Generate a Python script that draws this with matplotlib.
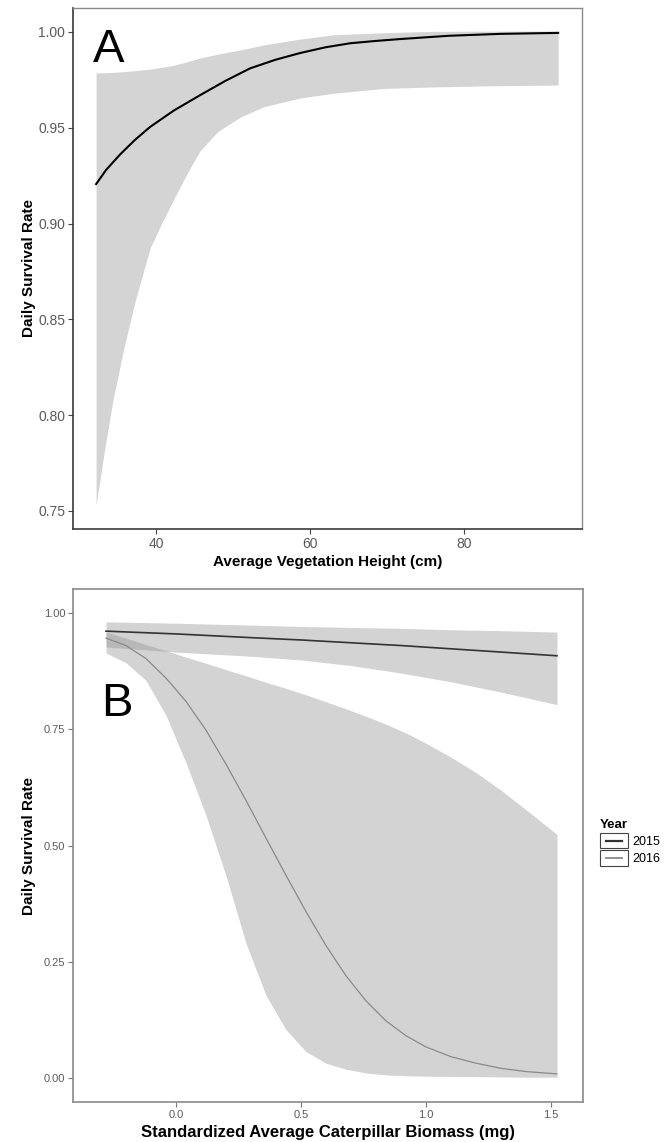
import matplotlib
matplotlib.use("Agg")
import matplotlib.pyplot as plt
from matplotlib.lines import Line2D
from matplotlib.patches import Rectangle
from matplotlib.legend_handler import HandlerBase

plt.rcParams['font.family'] = ['Liberation Sans', 'DejaVu Sans']

# ── Panel A : daily survival vs vegetation height ───────────────────────────
veg_line_x = [32.2, 33.5, 35.3, 37.2, 39.2, 42.3, 45.7, 49.0, 52.2, 55.5, 58.7,
              62.0, 65.2, 68.5, 71.7, 78.0, 84.7, 92.2]
veg_line_y = [0.9206, 0.928, 0.936, 0.9435, 0.9504, 0.959, 0.967, 0.9745, 0.981,
              0.9855, 0.989, 0.992, 0.9941, 0.9953, 0.9963, 0.998, 0.999, 0.9995]

veg_band_x = [32.2, 33.3, 34.4, 35.8, 37.3, 39.2, 40.7, 42.2, 44.0, 45.7, 48.0,
              50.9, 54.0, 58.7, 63.0, 69.5, 76.0, 82.1, 92.2]
veg_band_lo = [0.753, 0.782, 0.808, 0.835, 0.860, 0.887, 0.900, 0.912, 0.926, 0.938,
               0.948, 0.9555, 0.961, 0.9655, 0.968, 0.9705, 0.9713, 0.9718, 0.9723]
veg_band_hi = [0.9786, 0.9787, 0.9789, 0.9793, 0.9798, 0.9806, 0.9815, 0.9825, 0.9844,
               0.9864, 0.9884, 0.9906, 0.9932, 0.9963, 0.9985, 0.9996, 1.0003, 1.0004,
               1.0005]

# ── Panel B : daily survival vs caterpillar biomass, by year ────────────────
years = ['2015', '2016']

bio_2015_x = [-0.28, 0.0, 0.3, 0.5, 0.7, 0.9, 1.1, 1.3, 1.524]
dsr_2015 = [0.961, 0.955, 0.947, 0.942, 0.936, 0.930, 0.923, 0.916, 0.908]
dsr_2015_hi = [0.981, 0.978, 0.974, 0.971, 0.969, 0.967, 0.964, 0.962, 0.959]
dsr_2015_lo = [0.927, 0.916, 0.907, 0.899, 0.887, 0.871, 0.852, 0.830, 0.803]

bio_2016_x = [-0.28, -0.2, -0.12, -0.04, 0.04, 0.12, 0.2, 0.28, 0.36, 0.44, 0.52,
              0.6, 0.68, 0.76, 0.84, 0.92, 1.0, 1.1, 1.2, 1.3, 1.4, 1.524]
dsr_2016 = [0.946, 0.930, 0.902, 0.860, 0.810, 0.748, 0.675, 0.597, 0.516, 0.436,
            0.358, 0.285, 0.220, 0.166, 0.123, 0.091, 0.067, 0.046, 0.032, 0.021,
            0.014, 0.009]
dsr_2016_hi = [0.959, 0.946, 0.932, 0.919, 0.905, 0.892, 0.878, 0.865, 0.851, 0.838,
               0.824, 0.809, 0.794, 0.778, 0.761, 0.742, 0.720, 0.690, 0.657, 0.619,
               0.577, 0.524]
dsr_2016_lo = [0.914, 0.893, 0.855, 0.780, 0.678, 0.565, 0.435, 0.290, 0.178, 0.104,
               0.057, 0.032, 0.019, 0.011, 0.007, 0.005, 0.004, 0.0035, 0.003, 0.0025,
               0.002, 0.002]


class BoxedKey(HandlerBase):
    """Clé de légende façon ggplot : trait dans un petit cadre."""
    def create_artists(self, legend, orig_handle, xdescent, ydescent,
                       width, height, fontsize, trans):
        x0, y0 = -xdescent, -ydescent
        box = Rectangle((x0, y0), width, height, facecolor='white',
                        edgecolor='#444444', lw=0.8, transform=trans)
        ym = y0 + height / 2
        ln = Line2D([x0 + 0.2 * width, x0 + 0.8 * width], [ym, ym],
                    color=orig_handle.get_color(), lw=orig_handle.get_linewidth() + 0.4,
                    transform=trans)
        return [box, ln]


fig = plt.figure(figsize=(6.71, 11.42), dpi=100)

tick_col = '#5a5a5a'

# ── A ──
axA = fig.add_axes([0.1088, 0.5368, 0.7586, 0.4562])
axA.fill_between(veg_band_x, veg_band_lo, veg_band_hi, color='#d4d4d4', lw=0)
axA.plot(veg_line_x, veg_line_y, color='black', lw=1.5)
axA.set_xlim(29.2, 95.3)
axA.set_ylim(0.7406, 1.0125)
axA.set_xticks([40, 60, 80])
axA.set_yticks([0.75, 0.80, 0.85, 0.90, 0.95, 1.00])
axA.set_yticklabels(['0.75', '0.80', '0.85', '0.90', '0.95', '1.00'])
axA.tick_params(length=3.5, width=0.8, color='#444444', labelcolor=tick_col,
                labelsize=10, pad=2)
for s in ['left', 'bottom']:
    axA.spines[s].set_color('#3a3a3a')
    axA.spines[s].set_linewidth(1.2)
for s in ['top', 'right']:
    axA.spines[s].set_color('#8a8a8a')
    axA.spines[s].set_linewidth(1.0)
axA.set_xlabel('Average Vegetation Height (cm)', fontsize=11, fontweight='bold', labelpad=3)
axA.set_ylabel('Daily Survival Rate', fontsize=11, fontweight='bold')
axA.yaxis.set_label_coords(-0.073, 0.5)
axA.text(31.8, 0.9843, 'A', fontsize=34, ha='left', va='baseline')

# ── B ──
axB = fig.add_axes([0.1088, 0.0350, 0.760, 0.4492])
axB.fill_between(bio_2015_x, dsr_2015_lo, dsr_2015_hi, color='#8c8c8c', alpha=0.38, lw=0)
axB.fill_between(bio_2016_x, dsr_2016_lo, dsr_2016_hi, color='#8c8c8c', alpha=0.38, lw=0)
l15, = axB.plot(bio_2015_x, dsr_2015, color='#333333', lw=1.2, label=years[0])
l16, = axB.plot(bio_2016_x, dsr_2016, color='#8a8a8a', lw=0.9, label=years[1])
axB.set_xlim(-0.412, 1.628)
axB.set_ylim(-0.0515, 1.0515)
axB.set_xticks([0.0, 0.5, 1.0, 1.5])
axB.set_xticklabels(['0.0', '0.5', '1.0', '1.5'])
axB.set_yticks([0.0, 0.25, 0.5, 0.75, 1.0])
axB.set_yticklabels(['0.00', '0.25', '0.50', '0.75', '1.00'])
axB.tick_params(length=3.5, width=0.8, color='#777777', labelcolor=tick_col,
                labelsize=8, pad=2)
for s in axB.spines.values():
    s.set_color('#8a8a8a')
    s.set_linewidth(1.2)
axB.set_xlabel('Standardized Average Caterpillar Biomass (mg)', fontsize=12,
               fontweight='bold', labelpad=4)
axB.set_ylabel('Daily Survival Rate', fontsize=11, fontweight='bold')
axB.yaxis.set_label_coords(-0.073, 0.5)
axB.text(-0.30, 0.779, 'B', fontsize=34, ha='left', va='baseline')

leg = fig.legend(handles=[l15, l16], labels=years, title='Year',
                 loc='upper left', bbox_to_anchor=(0.885, 0.288),
                 frameon=False, fontsize=9, handlelength=2.2, handleheight=1.5,
                 labelspacing=0.15, handletextpad=0.35, borderpad=0,
                 alignment='left', handler_map={Line2D: BoxedKey()})
leg.get_title().set_fontweight('bold')
leg.get_title().set_fontsize(9.5)

fig.savefig('out.png', dpi=100)
